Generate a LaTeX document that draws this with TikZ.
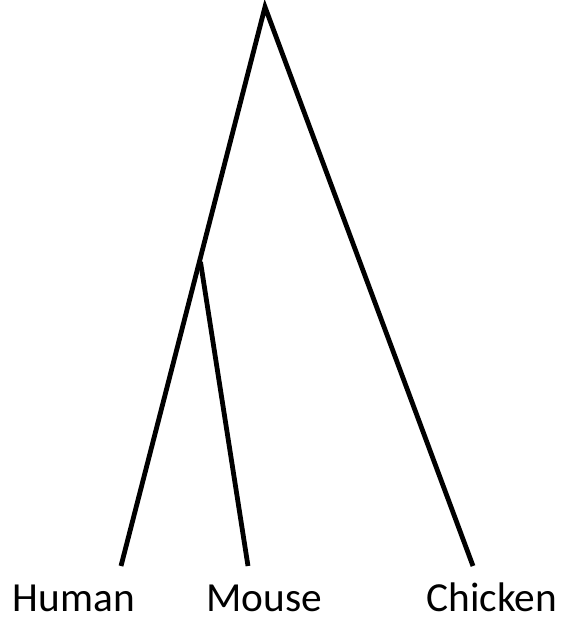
\documentclass[tikz,border=0pt]{standalone}
\usepackage{fontspec}
\setmainfont{Carlito}
\begin{document}
\begin{tikzpicture}[x=0.75pt,y=-0.75pt,
  branch/.style={line width=3.6pt,line cap=butt},
  leaf/.style={anchor=base,inner sep=0pt,font=\fontsize{31}{36}\selectfont}]
\useasboundingbox (0,0) rectangle (567,619);
\coordinate (root) at (265,7);
\coordinate (inner) at (200.5,262);
\coordinate (h) at (121,566);
\coordinate (m) at (248,566);
\coordinate (c) at (473,566);
\draw[branch,line join=miter] (h) -- (root) -- (c);
\draw[branch] (inner) -- (m);
\node[leaf] (human) at (74,611) {Human};
\node[leaf] (mouse) at (264,611) {Mouse};
\node[leaf] (chicken) at (492,611) {Chicken};
\end{tikzpicture}
\end{document}
